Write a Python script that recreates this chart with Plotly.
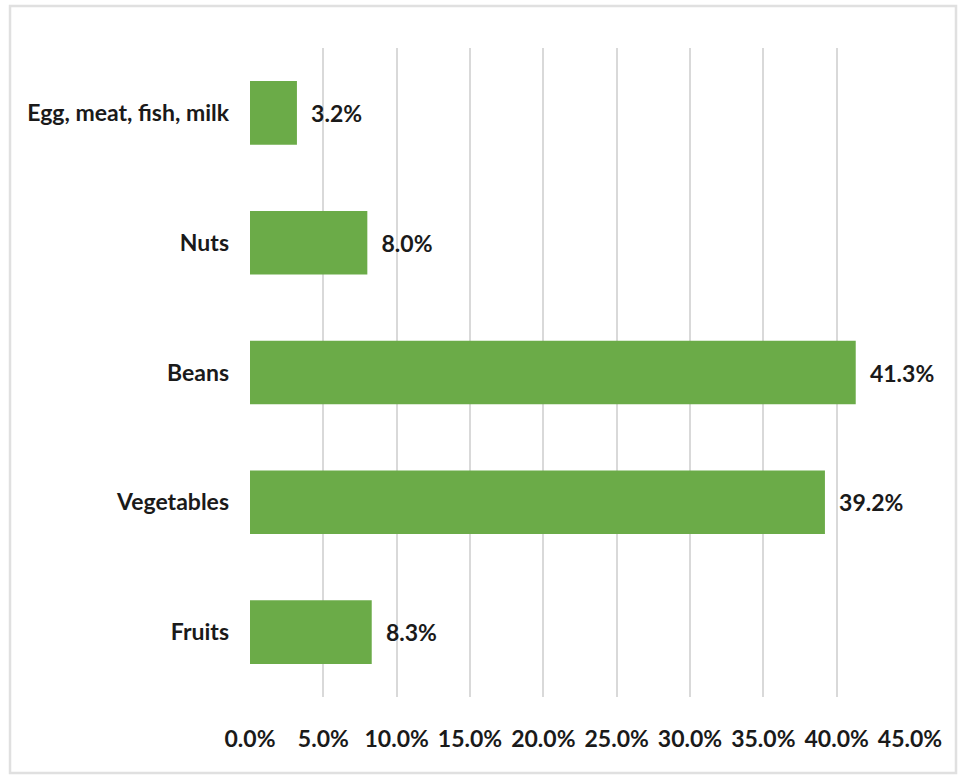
import plotly.graph_objects as go

categories = ["Fruits", "Vegetables", "Beans", "Nuts", "Egg, meat, fish, milk"]
values = [8.3, 39.2, 41.3, 8.0, 3.2]
x_ticks = [0, 5, 10, 15, 20, 25, 30, 35, 40, 45]

FONT = "Lato, Roboto, sans-serif"
FS = 23

fig = go.Figure(
    go.Bar(
        y=categories,
        x=values,
        orientation="h",
        marker=dict(color="#6BAB48", line=dict(width=0)),
        text=[f"\u00a0\u00a0{v:.1f}%" for v in values],
        textposition="outside",
        textfont=dict(family=FONT, size=FS, color="#1a1a1a", weight="bold"),
        cliponaxis=False,
        hoverinfo="skip",
    )
)

fig.update_layout(
    width=958,
    height=775,
    margin=dict(l=250, r=48, t=48, b=78, autoexpand=False),
    paper_bgcolor="white",
    plot_bgcolor="white",
    bargap=0.51,
    showlegend=False,
    font=dict(family=FONT, size=FS, color="#1a1a1a", weight="bold"),
    xaxis=dict(
        range=[0, 45],
        tickvals=x_ticks,
        ticktext=[f"{t:.1f}%" for t in x_ticks],
        tickangle=0,
        automargin=False,
        showgrid=True,
        gridcolor="#d9d9d9",
        gridwidth=1.5,
        zeroline=False,
        showline=False,
        ticks="",
        ticklabelstandoff=26,
        tickfont=dict(family=FONT, size=FS, color="#1a1a1a", weight="bold"),
    ),
    yaxis=dict(
        categoryorder="array",
        categoryarray=categories,
        automargin=False,
        showgrid=False,
        zeroline=False,
        showline=False,
        ticks="",
        ticklabelstandoff=20,
        tickfont=dict(family=FONT, size=FS, color="#1a1a1a", weight="bold"),
    ),
    shapes=[
        dict(
            type="rect", xref="paper", yref="paper",
            x0=-0.3636, x1=1.0697, y0=-0.117, y1=1.0647,
            line=dict(color="#e0e0e0", width=2.5),
            fillcolor="rgba(0,0,0,0)", layer="below",
        )
    ],
)

fig.write_html("out.html")
